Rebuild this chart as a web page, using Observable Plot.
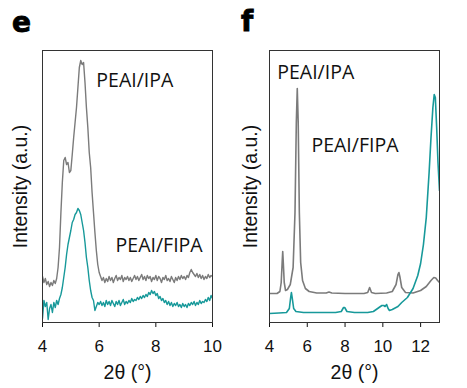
<!DOCTYPE html>
<html>
<head>
<meta charset="utf-8">
<script src="https://cdn.jsdelivr.net/npm/d3@7"></script>
<script src="https://cdn.jsdelivr.net/npm/@observablehq/plot@0.6"></script>
<style>
  html, body { margin: 0; padding: 0; background: #fff; }
  #wrap { position: relative; width: 467px; height: 388px; overflow: hidden; font-family: "Liberation Sans", Arial, sans-serif; }
  .panel { position: absolute; top: 0; }
  .letter { position: absolute; font-family: "DejaVu Sans", sans-serif; font-weight: 700; font-size: 28px; color: #000; line-height: 1; -webkit-text-stroke: 0.9px #000; }
</style>
</head>
<body>
<div id="wrap">
  <div class="panel" id="pe" style="left:0px"></div>
  <div class="panel" id="pf" style="left:230px"></div>
  <div class="letter" style="left:12px; top:9px">e</div>
  <div class="letter" style="left:241px; top:8px">f</div>
</div>
<script>
// ---- Panel e data (2θ in degrees, intensity in a.u.) ----
const eTheta = [4.00,4.05,4.10,4.15,4.20,4.25,4.30,4.35,4.40,4.45,4.50,4.55,4.60,4.65,4.70,4.75,4.80,4.85,4.90,4.95,
  5.00,5.05,5.10,5.15,5.20,5.25,5.30,5.35,5.40,5.45,5.50,5.55,5.60,5.65,5.70,5.75,5.80,5.85,5.90,5.95,
  6.00,6.05,6.10,6.15,6.20,6.25,6.30,6.35,6.40,6.45,6.50,6.55,6.60,6.65,6.70,6.75,6.80,6.85,6.90,6.95,
  7.00,7.05,7.10,7.15,7.20,7.25,7.30,7.35,7.40,7.45,7.50,7.55,7.60,7.65,7.70,7.75,7.80,7.85,7.90,7.95,
  8.00,8.05,8.10,8.15,8.20,8.25,8.30,8.35,8.40,8.45,8.50,8.55,8.60,8.65,8.70,8.75,8.80,8.85,8.90,8.95,
  9.00,9.05,9.10,9.15,9.20,9.25,9.30,9.35,9.40,9.45,9.50,9.55,9.60,9.65,9.70,9.75,9.80,9.85,9.90,9.95,10.00];
const eIPA = [46,40,44,38,41,36,40,37,42,39,44,55,75,110,140,162,165,158,160,150,
  152,168,185,200,215,235,255,262,258,260,240,215,195,170,155,130,110,90,72,58,
  50,46,42,45,40,44,41,46,42,45,40,44,47,42,45,43,47,41,45,43,
  46,42,45,41,44,47,43,46,42,45,48,43,46,42,47,44,46,41,45,43,
  47,42,46,44,40,45,43,47,42,44,41,46,43,40,45,42,46,43,47,44,
  46,43,47,45,50,53,50,48,46,49,45,48,44,47,43,46,44,48,45,47,46];
const eFIPA = [4,22,16,20,3,14,18,10,20,15,22,18,24,28,35,45,55,68,78,85,
  92,100,103,108,110,114,112,108,100,92,80,65,55,42,32,25,22,12,16,20,
  18,21,17,20,16,22,18,21,17,22,19,16,21,18,22,17,20,23,18,21,
  19,22,20,24,21,23,22,25,23,26,24,27,25,28,26,30,28,32,29,31,
  27,29,24,26,22,24,20,22,18,21,17,20,16,19,17,20,16,18,15,19,
  16,18,15,19,17,20,18,21,17,20,18,22,19,21,20,23,21,25,22,27,24];

// ---- Panel f data ----
const fThetaIPA = [4.00,4.40,4.55,4.62,4.67,4.70,4.73,4.78,4.85,4.95,5.10,5.25,5.35,5.42,5.47,5.52,5.58,5.65,5.75,5.90,
  6.10,6.50,7.00,7.15,7.30,8.00,9.00,9.20,9.30,9.40,9.60,10.20,10.50,10.70,10.80,10.85,10.90,11.00,11.20,11.60,
  12.00,12.30,12.55,12.70,12.80,12.90,13.00];
const fIPA = [29,29,31,40,60,71,60,40,32,33,38,55,110,200,234,200,110,60,42,34,
  31,29.5,29.5,30.5,29.5,29,29,30,35,30,29,29.5,31,38,48,50,46,35,30,29.5,
  32,36,42,45,44.5,42,40];
const fThetaFIPA = [4.00,4.50,4.90,5.05,5.12,5.16,5.20,5.28,5.40,5.80,6.50,7.50,7.80,7.92,7.98,8.10,8.50,9.20,9.50,9.80,
  9.95,10.05,10.12,10.20,10.28,10.35,10.50,10.80,11.00,11.30,11.60,11.85,12.00,12.15,12.30,12.45,12.55,12.65,12.72,12.78,
  12.85,12.92,13.00];
const fFIPA = [9,9.5,10,14,25,30,25,14,11,10,10,10,11,15,15,11,10,10,11,15,
  17,17,16,18,14,12,13,16,20,25,34,47,59,78,105,150,185,215,228,225,
  195,160,132];

// ---- labels ----
const seriesNames = ["PEAI/IPA", "PEAI/FIPA"];
const eTicks = [4, 6, 8, 10];
const fTicks = [4, 6, 8, 10, 12];
const xLabel = "2θ (°)";
const yLabel = "Intensity (a.u.)";

const GRAY = "#7b7b7b", TEAL = "#17999a";
const toRows = (xs, ys) => xs.map((x, i) => ({x, y: ys[i]}));

function panel({width, marginLeft, marginRight, xDomain, ticks, lines, labels, yLabelDx, strokeWidth}) {
  return Plot.plot({
    width, height: 388,
    marginLeft, marginRight, marginTop: 50, marginBottom: 66,
    style: {fontFamily: "'Liberation Sans', Arial, sans-serif", fontSize: "17px", color: "#111", background: "transparent", overflow: "visible"},
    x: {domain: xDomain, ticks, tickFormat: d3.format("d"), tickSize: 5, tickPadding: 12, label: null},
    y: {domain: [0, 272], axis: null},
    marks: [
      ...lines.map(l => Plot.line(l.data, {x: "x", y: "y", stroke: l.color, strokeWidth, clip: true})),
      Plot.frame({stroke: "#333", strokeWidth: 1}),
      ...labels.map(t => Plot.text([t.name], {x: () => t.x, y: () => t.y, text: d => d, textAnchor: "start", fontSize: 19.5, fontFamily: "'Open Sans', sans-serif", fill: "#111"})),
      Plot.text([xLabel], {frameAnchor: "bottom", dy: 50, lineAnchor: "middle", textAnchor: "middle", fontSize: 19.5, fill: "#111"}),
      Plot.text([yLabel], {frameAnchor: "left", dx: yLabelDx, rotate: -90, textAnchor: "middle", lineAnchor: "middle", fontSize: 19.5, fill: "#111"})
    ]
  });
}

const pe = panel({
  width: 230, marginLeft: 42, marginRight: 18, xDomain: [4, 10], ticks: eTicks, strokeWidth: 1.4,
  lines: [{data: toRows(eTheta, eIPA), color: GRAY}, {data: toRows(eTheta, eFIPA), color: TEAL}],
  labels: [{name: seriesNames[0], x: 5.9, y: 242}, {name: seriesNames[1], x: 6.58, y: 77}],
  yLabelDx: -22
});
const pf = panel({
  width: 237, marginLeft: 39, marginRight: 28, xDomain: [4, 13], ticks: fTicks, strokeWidth: 1.6,
  lines: [{data: toRows(fThetaIPA, fIPA), color: GRAY}, {data: toRows(fThetaFIPA, fFIPA), color: TEAL}],
  labels: [{name: seriesNames[0], x: 4.41, y: 250}, {name: seriesNames[1], x: 6.22, y: 177}],
  yLabelDx: -19
});
document.getElementById("pe").appendChild(pe);
document.getElementById("pf").appendChild(pf);
</script>
</body>
</html>
